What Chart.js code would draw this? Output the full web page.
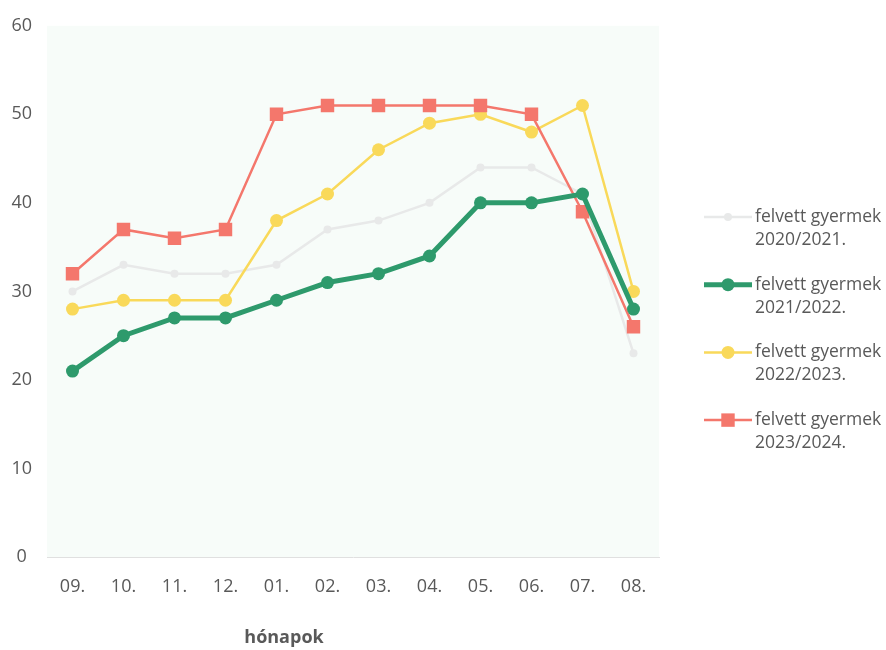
<!DOCTYPE html>
<html>
<head>
<meta charset="utf-8">
<script src="https://cdn.jsdelivr.net/npm/chart.js@4/dist/chart.umd.min.js"></script>
<style>
  html, body { margin: 0; padding: 0; background: #ffffff; }
  #wrap { width: 886px; height: 650px; position: relative; }
</style>
</head>
<body>
<div id="wrap"><canvas id="c" width="886" height="650"></canvas></div>
<script>
const months = ["09.", "10.", "11.", "12.", "01.", "02.", "03.", "04.", "05.", "06.", "07.", "08."];
const s2020 = [30, 33, 32, 32, 33, 37, 38, 40, 44, 44, 41, 23];
const s2021 = [21, 25, 27, 27, 29, 31, 32, 34, 40, 40, 41, 28];
const s2022 = [28, 29, 29, 29, 38, 41, 46, 49, 50, 48, 51, 30];
const s2023 = [32, 37, 36, 37, 50, 51, 51, 51, 51, 50, 39, 26];
const seriesLabels = [["felvett gyermek", "2020/2021."], ["felvett gyermek", "2021/2022."], ["felvett gyermek", "2022/2023."], ["felvett gyermek", "2023/2024."]];
const yTicks = [0, 10, 20, 30, 40, 50, 60];
const xTitle = "hónapok";

const FONT = "'Open Sans', 'Liberation Sans', sans-serif";
const TEXT = "#595959";

const bgPlugin = {
  id: 'plotBg',
  beforeDraw(chart) {
    const {ctx, chartArea: a} = chart;
    ctx.save();
    ctx.fillStyle = '#f7fcf9';
    ctx.fillRect(a.left, a.top, a.right - a.left, a.bottom - a.top);
    ctx.restore();
  }
};

const legendPlugin = {
  id: 'customLegend',
  afterDraw(chart) {
    const ctx = chart.ctx;
    ctx.save();
    chart.data.datasets.forEach((ds, i) => {
      const y = 217 + 67.7 * i;
      ctx.strokeStyle = ds.borderColor;
      ctx.lineWidth = ds.borderWidth;
      ctx.beginPath();
      ctx.moveTo(704, y);
      ctx.lineTo(752, y);
      ctx.stroke();
      ctx.fillStyle = ds.pointBackgroundColor;
      ctx.beginPath();
      const r = ds.pointRadius;
      if (ds.pointStyle === 'rect') {
        const s = Math.SQRT1_2 * r;
        ctx.rect(728 - s, y - s, 2 * s, 2 * s);
      } else {
        ctx.arc(728, y, r, 0, Math.PI * 2);
      }
      ctx.fill();
      ctx.fillStyle = TEXT;
      ctx.font = "17.5px " + FONT;
      ctx.textAlign = 'left';
      ctx.textBaseline = 'middle';
      const lbl = seriesLabels[i];
      ctx.fillText(lbl[0], 755, y);
      ctx.fillText(lbl[1], 755, y + 23);
    });
    ctx.fillStyle = TEXT;
    ctx.font = "bold 18px " + FONT;
    ctx.textAlign = 'center';
    ctx.textBaseline = 'middle';
    ctx.fillText(xTitle, 284, 638);
    ctx.restore();
  }
};

function mk(label, data, color, width, style, radius, order) {
  return {
    label: label.join(' '),
    data: data,
    borderColor: color,
    backgroundColor: color,
    borderWidth: width,
    pointStyle: style,
    pointRadius: radius,
    pointHoverRadius: radius,
    pointBackgroundColor: color,
    pointBorderColor: color,
    pointBorderWidth: 0,
    tension: 0,
    order: order
  };
}

new Chart(document.getElementById('c'), {
  type: 'line',
  data: {
    labels: months,
    datasets: [
      mk(seriesLabels[0], s2020, '#e8e9e9', 2.5, 'circle', 4, 3),
      mk(seriesLabels[1], s2021, '#2e9a6c', 5, 'circle', 6.5, 0),
      mk(seriesLabels[2], s2022, '#f9d95a', 2.5, 'circle', 6.5, 2),
      mk(seriesLabels[3], s2023, '#f4776c', 2.5, 'rect', 9.5, 1)
    ]
  },
  options: {
    responsive: false,
    animation: false,
    devicePixelRatio: 1,
    layout: { padding: { top: 23, right: 227, left: 0, bottom: 0 } },
    plugins: { legend: { display: false }, tooltip: { enabled: false }, title: { display: false } },
    scales: {
      x: {
        offset: true,
        grid: { display: false, drawTicks: false },
        border: { display: true, color: '#e0e0e0', width: 1 },
        ticks: { color: TEXT, font: { family: FONT, size: 18 }, padding: 19, maxRotation: 0, autoSkip: false },
        afterFit(s) { s.height = 93; }
      },
      y: {
        min: 0, max: 60,
        afterBuildTicks(s) { s.ticks = yTicks.map(v => ({ value: v })); },
        grid: { display: false, drawTicks: false },
        border: { display: false },
        ticks: { color: TEXT, font: { family: FONT, size: 18 }, padding: 15, crossAlign: 'center' },
        afterFit(s) { s.width = 47; }
      }
    }
  },
  plugins: [bgPlugin, legendPlugin]
});
</script>
</body>
</html>
